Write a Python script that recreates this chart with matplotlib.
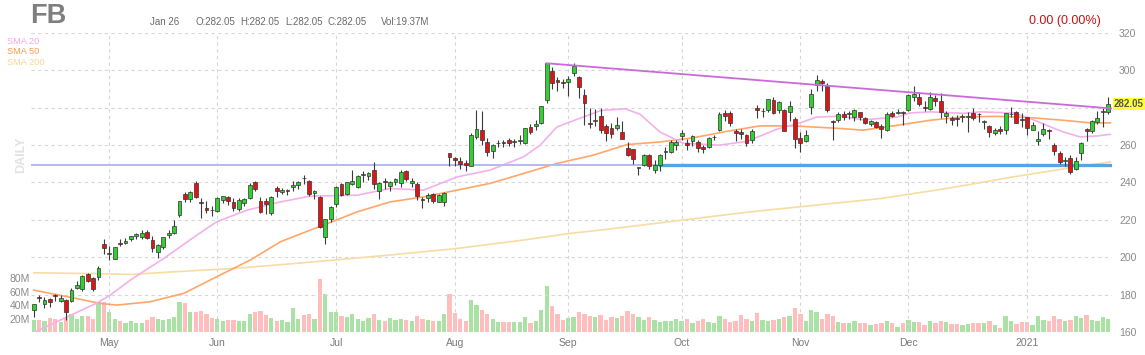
import numpy as np
import matplotlib
matplotlib.use('Agg')
import matplotlib.pyplot as plt

plt.rcParams['font.family'] = ['Liberation Sans', 'DejaVu Sans']

# daily bars Apr 13 2020 .. Jan 26 2021
opens = [172.0, 178.9, 175.2, 177.9, 179.5, 176.5, 177.0, 176.5, 183.3, 183.2, 191.0, 188.7, 189.5, 206.9,
         201.6, 199.2, 207.4, 207.6, 210.0, 211.2, 210.9, 213.3, 209.4, 202.6, 205.3, 212.0, 212.9, 222.5, 234.0, 231.0, 239.5, 229.8, 226.5, 225.2,
         224.6, 230.9, 232.1, 229.6, 225.9, 229.0, 231.5, 240.5, 229.9, 229.9, 223.5, 237.0, 235.0, 235.5, 237.8, 238.5, 242.5, 240.8, 234.5, 232.0, 211.0, 220.6,
         228.5, 239.0, 233.6, 239.2, 237.5, 243.8, 243.7, 246.6, 235.7, 241.0, 237.9, 240.3, 239.5, 246.0, 239.8, 239.0, 230.8, 231.8, 234.1, 229.7, 229.4, 255.8,
         252.9, 251.3, 250.5, 249.0, 264.2, 268.2, 261.9, 257.0, 261.0, 261.7, 262.5, 261.5, 262.0, 261.4, 269.5, 270.5, 271.6, 284.0, 299.8, 294.8, 293.3,
         293.9, 298.8, 296.3, 287.0, 271.7, 273.0, 275.4, 270.3, 269.3, 269.0, 266.9, 258.2, 257.9, 248.0, 249.3, 254.6, 246.8, 249.3, 256.4, 256.5, 260.3,
         265.0, 261.2, 262.0, 261.8, 259.0, 259.1, 264.1, 268.0, 277.4, 277.0, 267.5, 267.0, 265.6, 262.6, 279.6, 278.0, 278.7, 284.0, 278.7, 278.7, 277.7, 274.2,
         264.0, 262.3, 280.4, 292.4, 294.2, 291.6, 273.0, 273.3, 276.9, 276.5, 274.8, 277.5, 274.4, 271.4, 272.3, 270.2, 268.0, 277.3, 277.0, 277.5,
         279.0, 285.8, 286.0, 280.5, 279.4, 285.0, 283.7, 275.4, 274.5, 274.5, 275.0, 275.0, 277.0, 276.5, 272.5, 270.5, 266.3, 268.7, 268.0, 276.5, 277.8, 274.0,
         274.8, 268.3, 262.0, 265.9, 268.3, 260.0, 256.0, 251.5, 253.0, 247.1, 256.0, 268.7, 267.8, 272.3, 277.5, 277.8]
highs = [175.2, 180.0, 178.5, 178.1, 180.5, 180.0, 177.5, 183.5, 187.3, 190.7, 191.5, 189.5, 195.3, 209.7,
         205.9, 205.6, 210.0, 210.2, 211.3, 213.0, 214.4, 214.8, 211.4, 207.0, 211.0, 214.5, 219.7, 230.0, 234.8, 235.3, 240.9, 231.5, 230.2, 227.5,
         232.5, 233.0, 232.6, 231.6, 231.6, 231.6, 239.8, 241.0, 232.0, 231.5, 233.0, 238.1, 237.1, 236.7, 240.8, 240.8, 243.8, 241.5, 236.0, 232.8, 220.7, 227.5,
         238.0, 239.6, 240.5, 246.6, 244.0, 245.9, 245.5, 251.0, 240.2, 242.3, 241.0, 242.6, 246.8, 246.8, 242.2, 240.0, 232.5, 234.5, 234.6, 233.9, 234.9, 255.9,
         253.5, 253.6, 251.9, 266.6, 278.9, 278.2, 263.9, 260.6, 262.7, 263.0, 264.0, 263.5, 265.5, 269.4, 271.3, 273.5, 281.1, 304.0, 301.6, 296.7, 295.2,
         297.0, 304.2, 297.2, 289.8, 279.6, 279.3, 280.0, 271.4, 272.0, 275.0, 272.8, 261.7, 258.1, 248.5, 255.5, 255.0, 252.0, 255.5, 258.8, 262.5, 263.0,
         267.9, 263.5, 265.2, 262.8, 259.8, 264.4, 265.5, 277.5, 279.0, 278.5, 268.8, 268.5, 266.2, 268.5, 281.5, 279.7, 284.8, 285.5, 283.5, 279.5, 283.5, 275.0,
         267.1, 268.0, 290.0, 297.5, 295.5, 293.4, 273.5, 277.5, 278.5, 278.0, 279.5, 277.8, 274.8, 273.5, 273.0, 271.5, 277.5, 278.0, 279.5, 278.5,
         287.6, 291.8, 288.0, 283.5, 288.5, 286.6, 287.8, 278.5, 275.5, 276.0, 276.5, 277.5, 280.0, 277.0, 273.5, 271.0, 269.0, 270.0, 277.3, 280.5, 278.1, 277.1,
         275.0, 272.4, 267.8, 271.6, 268.8, 261.0, 256.8, 253.5, 254.5, 253.5, 261.8, 269.0, 273.5, 278.0, 280.0, 285.9]
lows = [168.2, 176.2, 173.0, 173.5, 176.6, 175.9, 166.6, 176.0, 183.0, 181.8, 186.7, 182.0, 188.0, 201.6,
        198.5, 198.8, 206.0, 207.0, 208.5, 209.5, 210.0, 210.0, 202.6, 199.5, 204.5, 210.2, 212.6, 221.3, 229.3, 229.3, 231.7, 221.0, 223.5, 222.0,
        224.3, 229.0, 228.2, 225.0, 224.6, 227.4, 231.0, 235.7, 223.8, 222.9, 222.5, 232.3, 233.7, 233.5, 235.6, 236.3, 239.0, 232.8, 231.3, 215.5, 207.1, 218.6,
        227.0, 232.8, 233.1, 238.6, 237.3, 240.5, 241.5, 236.7, 231.2, 236.3, 235.5, 238.5, 237.8, 240.7, 237.5, 230.8, 226.5, 229.5, 229.0, 229.3, 227.3, 249.0,
        248.6, 247.4, 246.3, 248.7, 263.4, 260.0, 254.0, 253.0, 258.9, 258.9, 259.7, 259.0, 260.8, 260.5, 265.7, 268.3, 271.2, 282.5, 290.0, 289.1, 290.4,
        286.4, 297.0, 285.0, 271.0, 269.0, 270.0, 266.4, 262.1, 264.0, 268.3, 263.2, 254.4, 249.7, 244.1, 248.8, 247.0, 244.9, 245.9, 252.7, 256.0, 257.5,
        262.9, 257.5, 259.6, 256.5, 255.6, 258.6, 262.9, 267.5, 273.0, 270.0, 262.0, 263.5, 259.5, 261.0, 274.5, 275.0, 277.5, 276.5, 277.0, 267.3, 273.0, 258.5,
        256.5, 261.5, 276.5, 289.2, 289.0, 277.5, 262.5, 272.5, 273.5, 274.0, 273.0, 273.5, 271.5, 270.3, 269.3, 264.0, 267.5, 274.8, 276.5, 271.0,
        278.3, 283.5, 281.0, 278.5, 279.0, 281.0, 274.6, 272.0, 271.0, 270.5, 272.5, 267.0, 273.5, 272.5, 268.5, 264.5, 265.5, 266.0, 265.7, 275.3, 271.7, 269.8,
        265.2, 268.0, 260.0, 264.8, 263.2, 254.6, 250.0, 249.0, 244.5, 246.6, 251.8, 262.0, 266.5, 271.5, 269.5, 276.9]
closes = [174.8, 178.2, 177.0, 176.3, 179.2, 178.2, 170.8, 182.3, 185.1, 190.1, 187.5, 182.9, 194.2, 204.7,
          202.3, 205.3, 207.1, 208.5, 211.3, 212.4, 213.2, 210.1, 205.1, 206.8, 210.9, 213.2, 216.9, 230.0, 231.4, 234.9, 232.2, 229.1, 225.5, 225.1,
          231.9, 232.7, 230.2, 226.3, 230.8, 231.4, 238.7, 236.7, 224.4, 228.6, 232.5, 235.5, 235.8, 236.0, 238.8, 240.3, 242.2, 234.0, 235.7, 216.1, 220.6, 227.1,
          237.6, 233.4, 240.3, 240.9, 243.6, 244.5, 245.1, 239.0, 239.7, 240.2, 240.3, 242.0, 245.4, 241.8, 240.7, 232.6, 230.7, 233.5, 230.1, 233.3, 234.5, 253.7,
          252.0, 249.8, 249.1, 265.3, 268.4, 263.0, 256.1, 259.9, 261.3, 261.2, 261.2, 262.3, 262.6, 269.0, 267.0, 271.4, 280.8, 303.9, 293.2, 293.7, 293.2,
          295.4, 302.5, 291.1, 282.7, 271.2, 273.7, 268.1, 266.6, 266.2, 270.6, 263.2, 254.8, 252.5, 248.2, 254.8, 249.0, 249.5, 254.8, 256.8, 261.8, 261.9,
          266.6, 259.9, 264.7, 258.7, 258.1, 263.8, 264.5, 276.5, 275.8, 271.9, 266.7, 265.9, 261.4, 267.6, 278.7, 278.1, 284.8, 277.1, 283.3, 267.7, 280.8, 263.1,
          261.4, 265.3, 287.4, 294.7, 293.4, 278.8, 272.4, 276.5, 275.1, 277.0, 278.9, 275.0, 272.0, 272.9, 269.7, 268.4, 276.9, 275.6, 277.8, 277.0,
          286.6, 287.5, 281.9, 279.7, 285.6, 283.4, 277.9, 277.1, 273.6, 274.2, 275.6, 275.7, 274.5, 276.4, 272.8, 267.1, 268.1, 267.4, 277.0, 276.8, 271.9, 273.2,
          268.9, 271.0, 263.3, 268.7, 267.6, 256.8, 251.1, 251.6, 245.6, 251.4, 261.1, 267.5, 272.9, 274.5, 278.0, 282.05]
volumes = [18, 18, 16, 21, 19, 15, 21, 27, 19, 24, 24, 19, 44, 44,
           29, 19, 16, 14, 16, 13, 14, 18, 22, 20, 18, 19, 22, 45, 43, 30, 30, 31, 27, 21,
           20, 17, 18, 18, 16, 16, 26, 29, 31, 25, 21, 16, 18, 15, 36, 20, 25, 27, 20, 78, 56, 30,
           30, 23, 22, 27, 20, 16, 21, 26, 18, 17, 21, 18, 20, 18, 17, 24, 19, 18, 17, 16, 26, 56,
           28, 20, 17, 48, 40, 32, 27, 20, 15, 15, 15, 15, 15, 22, 14, 16, 33, 68, 38, 27, 18,
           21, 22, 30, 26, 24, 22, 25, 18, 22, 21, 23, 31, 27, 22, 18, 22, 18, 15, 16, 16, 19,
           16, 19, 14, 17, 19, 15, 13, 24, 19, 15, 16, 25, 20, 17, 28, 18, 17, 18, 20, 22, 23, 36,
           27, 17, 33, 30, 20, 27, 24, 15, 14, 13, 16, 13, 14, 11, 12, 13, 17, 13, 8, 14,
           18, 15, 15, 11, 16, 13, 17, 15, 12, 12, 11, 12, 13, 14, 14, 16, 10, 6, 23, 16, 12, 15,
           15, 10, 24, 18, 16, 23, 20, 16, 18, 23, 21, 25, 18, 17, 22, 19]

month_labels = ['May', 'Jun', 'Jul', 'Aug', 'Sep', 'Oct', 'Nov', 'Dec', '2021']
month_idx = [14, 34, 56, 78, 99, 120, 142, 162, 184]

# moving averages (bar index, value)
sma20_x = [0, 11.7, 14.2, 17.9, 24.1, 30.2, 33.9, 39.5, 45.7, 51.2, 59.9, 66.0, 72.2, 78.4, 84.5, 90.7, 93.8, 96.9,
           99.4, 105, 109.5, 112.3, 116, 120.3, 127, 132.1, 137.6, 142, 145, 149.4, 153.6, 159.9, 162.3, 166, 172.2,
           175.3, 181.4, 184.6, 187.6, 190.7, 193.8, 196.9, 199.4]
sma20_y = [159.7, 175.5, 179.8, 187.8, 199.4, 211.8, 219.0, 225.2, 229.6, 232.7, 233.2, 236.8, 235.9, 243.0, 246.6, 253.7, 260.0, 269.7,
           272.5, 278.5, 279.5, 276.5, 267.0, 261.0, 260.0, 262.0, 268.5, 272.0, 275.0, 275.5, 273.5, 275.0, 277.2, 277.8, 277.0,
           277.8, 277.2, 274.2, 270.6, 267.0, 264.4, 264.9, 265.8]
sma50_x = [0, 6.2, 12.3, 15.4, 21.6, 27.8, 33.9, 40.1, 45.7, 51.2, 53.7, 59.9, 66.0, 72.2, 78.4, 84.5, 90.7, 96.9, 103.6,
           109.9, 116.0, 122.1, 128.4, 134.5, 140.7, 149.4, 153.6, 159.9, 166.0, 172.2, 178.4, 184.6, 190.7, 195.7, 199.4]
sma50_y = [182.4, 178.9, 175.3, 174.4, 176.2, 180.7, 189.6, 198.5, 208.3, 214.5, 217.2, 224.3, 229.6, 232.3, 235.9, 239.5, 244.8, 250.2, 254.6,
           260.3, 261.7, 263.9, 267.4, 270.3, 270.3, 268.9, 268.0, 270.6, 273.3, 275.1, 275.4, 274.7, 273.3, 271.9, 271.9]
sma200_x = [0, 12.3, 17.9, 24.7, 37.0, 49.4, 66.0, 78.4, 90.7, 99.4, 104.9, 132.7, 156.8, 169.1, 181.4, 193.8, 199.4]
sma200_y = [191.7, 191.2, 190.8, 192.0, 194.0, 196.9, 201.2, 204.7, 209.2, 212.8, 214.5, 224.3, 231.4, 236.8, 243.0, 248.7, 251.0]

# drawn lines
trend_x = [95, 199.7]
trend_y = [303.8, 279.6]
support_level = 249.6
support_start = 116

GREEN = '#2fd02f'
RED = '#e01414'
VGREEN = '#a9e2a4'
VRED = '#ffbdbd'

fig = plt.figure(figsize=(11.45, 3.55), dpi=100)
rect = [31 / 1145, 23 / 355, (1112 - 31) / 1145, (332 - 33) / 355]
axv = fig.add_axes(rect)
ax = fig.add_axes(rect, sharex=axv)
ax.patch.set_alpha(0)

n = len(closes)
x = np.arange(n)
o = np.array(opens)
c = np.array(closes)
h = np.array(highs)
l = np.array(lows)
up = c >= o

# volume
axv.bar(x, volumes, width=0.8, color=np.where(up, VGREEN, VRED), zorder=1)
axv.set_ylim(0, 443)
axv.set_yticks([20, 40, 60, 80])
axv.set_yticklabels(['20M', '40M', '60M', '80M'])
axv.tick_params(axis='y', length=0, labelsize=7.5, labelcolor='#8a8a8a', pad=1)
axv.tick_params(axis='x', length=0, labelsize=7.5, labelcolor='#7a7a7a', pad=4)
for s in axv.spines.values():
    s.set_visible(False)

# grid
for lvl in range(180, 321, 20):
    ax.axhline(lvl, color='#d6d6d6', lw=0.8, ls=(0, (3, 3)), zorder=0)
for mi in month_idx:
    ax.axvline(mi, color='#d6d6d6', lw=0.8, ls=(0, (3, 3)), zorder=0)

# averages
ax.plot(sma200_x, sma200_y, color='#f7dca4', lw=1.2, zorder=2)
ax.plot(sma50_x, sma50_y, color='#ffa66a', lw=1.2, zorder=2)
ax.plot(sma20_x, sma20_y, color='#f4b0ea', lw=1.2, zorder=2)

# horizontal levels and trend line
ax.axhline(support_level, color='#b8b8f2', lw=1.4, zorder=2)
ax.plot([support_start, n - 0.3], [support_level, support_level], color='#5aa2e4', lw=2.4, zorder=2)

# candles
ax.vlines(x, l, h, color='#3a3a3a', lw=0.8, zorder=3)
body_lo = np.minimum(o, c)
body_h = np.maximum(np.abs(c - o), 0.35)
ax.bar(x, body_h, bottom=body_lo, width=0.72, color=np.where(up, GREEN, RED),
       edgecolor='#333333', linewidth=0.5, zorder=4)

ax.plot(trend_x, trend_y, color='#c86ad8', lw=1.3, zorder=5)

ax.set_xlim(-0.5, 199.7)
ax.set_ylim(160, 320)
ax.yaxis.tick_right()
ticks = list(range(160, 321, 20))
ax.set_yticks(ticks)
# the 280 label sits under the last-price tag
ax.set_yticklabels(['' if t == 280 else str(t) for t in ticks])
ax.tick_params(axis='y', length=0, labelsize=7.5, labelcolor='#8a8a8a', pad=5)
ax.tick_params(axis='x', length=0, labelbottom=False)
for s in ax.spines.values():
    s.set_visible(False)
axv.set_xticks(month_idx)
axv.set_xticklabels(month_labels)

# last price tag
ax.annotate('282.05', xy=(1.0, closes[-1]), xycoords=('axes fraction', 'data'),
            xytext=(1.5, 0), textcoords='offset points', va='center', ha='left',
            fontsize=7, fontweight='bold', color='#555555', zorder=10,
            bbox=dict(boxstyle='square,pad=0.12', fc='#ffff3a', ec='none'),
            annotation_clip=False)

# header texts
fig.text(30 / 1145, 1 - 16 / 355, 'FB', fontsize=19.5, fontweight='bold', color='#7f7f7f', va='center', ha='left')
hdr = [(150, 'Jan 26'), (195, 'O:282.05'), (240, 'H:282.05'), (285, 'L:282.05'), (327, 'C:282.05'), (381, 'Vol:19.37M')]
for px, t in hdr:
    fig.text(px / 1145, 1 - 22 / 355, t, fontsize=7, color='#6a6a6a', va='center', ha='left')
fig.text(1101 / 1145, 1 - 21 / 355, '0.00 (0.00%)', fontsize=9, color='#cc1111', va='center', ha='right')

fig.text(7 / 1145, 1 - 41 / 355, 'SMA 20', fontsize=6.7, color='#f2a8e6', va='center', ha='left')
fig.text(7 / 1145, 1 - 52 / 355, 'SMA 50', fontsize=6.7, color='#ff9a4e', va='center', ha='left')
fig.text(7 / 1145, 1 - 62.5 / 355, 'SMA 200', fontsize=6.7, color='#f3d796', va='center', ha='left')
fig.text(21 / 1145, 1 - 155 / 355, 'DAILY', fontsize=9, fontweight='bold', color='#e2e2e2', rotation=90,
         va='center', ha='center')

plt.savefig('out.png', dpi=100)
